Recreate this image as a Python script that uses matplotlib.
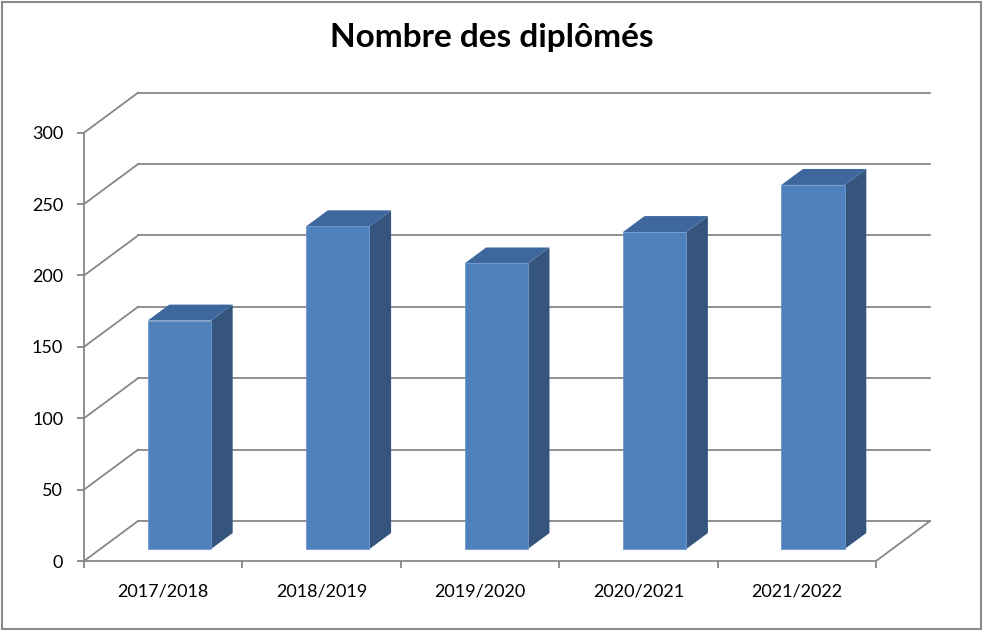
import matplotlib
matplotlib.use('Agg')
import matplotlib.pyplot as plt
from matplotlib.patches import Polygon
from matplotlib.ticker import FixedLocator, NullFormatter

# data
years = ['2017/2018', '2018/2019', '2019/2020', '2020/2021', '2021/2022']
graduates = [160, 226, 200, 222, 255]
y_ticks = [0, 50, 100, 150, 200, 250, 300]

GRID = '#878787'
FRONT = '#4F81BD'
SIDE = '#35557E'
TOP = '#3E679E'

# oblique "3D" depth vector (data units) and bar placement inside the depth
DX, DY = 0.341, 28.0
F0, F1 = 0.3, 0.7          # bar depth span, as fraction of full depth
BAR_W = 0.40

plt.rcParams['font.family'] = ['Lato', 'DejaVu Sans']

fig = plt.figure(figsize=(9.83, 6.3), dpi=100)
ax = fig.add_axes([84 / 983, 69 / 630, 792 / 983, 428.3 / 630])
n = len(years)
ax.set_xlim(0, n)
ax.set_ylim(0, y_ticks[-1])

# back wall gridlines + left wall diagonals
for v in y_ticks:
    ax.plot([DX, n + DX], [v + DY, v + DY], color=GRID, lw=1.3,
            clip_on=False, zorder=1)
    ax.plot([0, DX], [v, v + DY], color=GRID, lw=1.3, clip_on=False, zorder=1)
# floor right edge
ax.plot([n, n + DX], [0, DY], color=GRID, lw=1.3, clip_on=False, zorder=1)

# bars
for i, v in enumerate(graduates):
    x0 = i + 0.5 - BAR_W / 2 + F0 * DX
    x1 = x0 + BAR_W
    y0 = F0 * DY
    y1 = y0 + v
    ddx, ddy = (F1 - F0) * DX, (F1 - F0) * DY
    front = [(x0, y0), (x1, y0), (x1, y1), (x0, y1)]
    side = [(x1, y0), (x1 + ddx, y0 + ddy), (x1 + ddx, y1 + ddy), (x1, y1)]
    top = [(x0, y1), (x1, y1), (x1 + ddx, y1 + ddy), (x0 + ddx, y1 + ddy)]
    ax.add_patch(Polygon(side, closed=True, fc=SIDE, ec='none',
                         clip_on=False, zorder=3))
    ax.add_patch(Polygon(top, closed=True, fc=TOP, ec='none',
                         clip_on=False, zorder=3))
    ax.add_patch(Polygon(front, closed=True, fc=FRONT, ec='#6E98CC', lw=0.6,
                         clip_on=False, zorder=4))

# axes look
for s in ('top', 'right'):
    ax.spines[s].set_visible(False)
for s in ('left', 'bottom'):
    ax.spines[s].set_color(GRID)
    ax.spines[s].set_linewidth(1.3)

ax.set_yticks(y_ticks)
ax.set_yticklabels([str(t) for t in y_ticks])
ax.tick_params(axis='y', length=5, width=1.3, color=GRID, pad=10,
               labelsize=13, labelcolor='black')

ax.xaxis.set_major_locator(FixedLocator(range(n + 1)))
ax.xaxis.set_major_formatter(NullFormatter())
ax.xaxis.set_minor_locator(FixedLocator([i + 0.5 for i in range(n)]))
ax.set_xticklabels(years, minor=True)
ax.tick_params(axis='x', which='major', length=5, width=1.3, color=GRID)
ax.tick_params(axis='x', which='minor', length=0, pad=16,
               labelsize=13, labelcolor='black')

fig.text(0.5, 1 - 47 / 630, 'Nombre des diplômés', ha='center',
         va='baseline', fontsize=24, fontweight='bold')

# outer chart frame
fig.add_artist(plt.Rectangle((2 / 983, 1 / 630), 979 / 983, 627 / 630,
                             transform=fig.transFigure, fill=False,
                             ec='#8A8A8A', lw=1.5))

fig.savefig('out.png', dpi=100)
